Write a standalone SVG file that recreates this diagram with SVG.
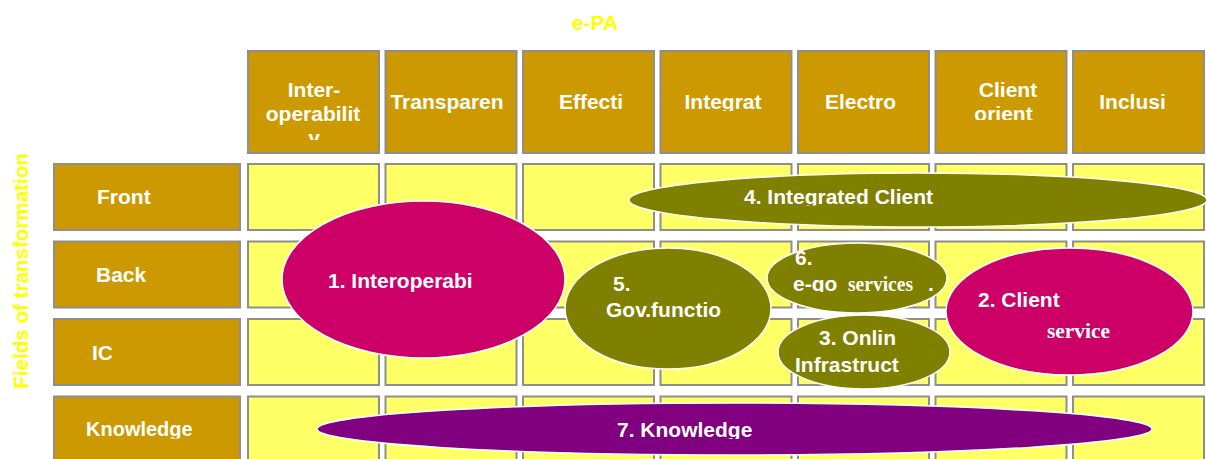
<svg xmlns="http://www.w3.org/2000/svg" width="1206" height="459" viewBox="0 0 1206 459">
  <style>
    .hdr { fill: #CC9900; stroke: #8E8E8E; stroke-width: 2; }
    .cell { fill: #FFFF66; stroke: #8E8E8E; stroke-width: 2; }
    .lbl { font-family: "Liberation Sans", Arial, sans-serif; font-weight: bold; font-size: 21px; fill: #FFFFFF; }
    .mid { text-anchor: middle; }
    .serif { font-family: "Liberation Serif", "Times New Roman", serif; font-weight: bold; font-size: 20px; fill: #FFFFFF; }
    .title { font-family: "Liberation Sans", Arial, sans-serif; font-weight: bold; font-size: 21px; fill: #FFFF00; }
    .ell { stroke: #FFFFFF; stroke-width: 1.5; }
    .magenta { fill: #CC0066; }
    .olive { fill: #808000; }
    .purple { fill: #800080; }
  </style>
  <defs>
    <!-- overflowing label text is cut off at the bottom of its text frame -->
    <clipPath id="cInter" clipPathUnits="userSpaceOnUse"><rect x="247" y="50" width="133" height="90"/></clipPath>
    <clipPath id="cTrans" clipPathUnits="userSpaceOnUse"><rect x="385" y="50" width="133" height="71"/></clipPath>
    <clipPath id="cIntegrat" clipPathUnits="userSpaceOnUse"><rect x="660" y="50" width="133" height="61"/></clipPath>
    <clipPath id="cClient" clipPathUnits="userSpaceOnUse"><rect x="935" y="50" width="133" height="70"/></clipPath>
    <clipPath id="cKnowLbl" clipPathUnits="userSpaceOnUse"><rect x="53" y="396" width="188" height="42.5"/></clipPath>
    <clipPath id="cInteg4" clipPathUnits="userSpaceOnUse"><rect x="629" y="173" width="578" height="32.5"/></clipPath>
    <clipPath id="cEgo" clipPathUnits="userSpaceOnUse"><rect x="767" y="243" width="180" height="49"/></clipPath>
    <clipPath id="cKnow7" clipPathUnits="userSpaceOnUse"><rect x="317" y="403" width="836" height="36"/></clipPath>
  </defs>

  <rect width="1206" height="459" fill="#FFFFFF"/>

  <!-- axis titles -->
  <text id="title-epa" class="title mid" x="595" y="30">e-PA</text>
  <text id="title-fields" class="title mid" transform="translate(28,271) rotate(-90)" style="font-size:20.6px">Fields of transformation</text>

  <!-- column headers -->
  <g id="col-interoperability">
    <rect class="hdr" x="248" y="51" width="131" height="102"/>
    <g clip-path="url(#cInter)">
      <text class="lbl mid" x="314" y="97">Inter-</text>
      <text class="lbl mid" x="313" y="121">operabilit</text>
      <text class="lbl mid" x="314" y="145">y</text>
    </g>
  </g>
  <g id="col-transparency">
    <rect class="hdr" x="385.5" y="51" width="131" height="102"/>
    <text class="lbl mid" x="447" y="109" clip-path="url(#cTrans)">Transparen</text>
  </g>
  <g id="col-effectiveness">
    <rect class="hdr" x="523" y="51" width="131" height="102"/>
    <text class="lbl mid" x="591" y="109">Effecti</text>
  </g>
  <g id="col-integration">
    <rect class="hdr" x="660.5" y="51" width="131" height="102"/>
    <text class="lbl mid" x="723" y="109" clip-path="url(#cIntegrat)">Integrat</text>
  </g>
  <g id="col-electronic">
    <rect class="hdr" x="798" y="51" width="131" height="102"/>
    <text class="lbl mid" x="860.5" y="109">Electro</text>
  </g>
  <g id="col-client-orientation">
    <rect class="hdr" x="935.5" y="51" width="131" height="102"/>
    <g clip-path="url(#cClient)">
      <text class="lbl mid" x="1008" y="97">Client</text>
      <text class="lbl mid" x="1003.5" y="121">orient</text>
    </g>
  </g>
  <g id="col-inclusion">
    <rect class="hdr" x="1073" y="51" width="131" height="102"/>
    <text class="lbl mid" x="1132.5" y="109">Inclusi</text>
  </g>

  <!-- row headers -->
  <g id="row-front">
    <rect class="hdr" x="54" y="164" width="186" height="66"/>
    <text class="lbl" x="97" y="204">Front</text>
  </g>
  <g id="row-back">
    <rect class="hdr" x="54" y="241.5" width="186" height="66"/>
    <text class="lbl" x="96" y="282">Back</text>
  </g>
  <g id="row-ic">
    <rect class="hdr" x="54" y="319" width="186" height="66"/>
    <text class="lbl" x="92" y="360">IC</text>
  </g>
  <g id="row-knowledge">
    <rect class="hdr" x="54" y="396.5" width="186" height="66"/>
    <text class="lbl" x="86" y="436" clip-path="url(#cKnowLbl)" style="font-size:20px">Knowledge</text>
  </g>

  <!-- matrix cells -->
  <g id="grid">
    <g id="grid-front">
      <rect class="cell" x="248" y="164" width="131" height="66"/>
      <rect class="cell" x="385.5" y="164" width="131" height="66"/>
      <rect class="cell" x="523" y="164" width="131" height="66"/>
      <rect class="cell" x="660.5" y="164" width="131" height="66"/>
      <rect class="cell" x="798" y="164" width="131" height="66"/>
      <rect class="cell" x="935.5" y="164" width="131" height="66"/>
      <rect class="cell" x="1073" y="164" width="131" height="66"/>
    </g>
    <g id="grid-back">
      <rect class="cell" x="248" y="241.5" width="131" height="66"/>
      <rect class="cell" x="385.5" y="241.5" width="131" height="66"/>
      <rect class="cell" x="523" y="241.5" width="131" height="66"/>
      <rect class="cell" x="660.5" y="241.5" width="131" height="66"/>
      <rect class="cell" x="798" y="241.5" width="131" height="66"/>
      <rect class="cell" x="935.5" y="241.5" width="131" height="66"/>
      <rect class="cell" x="1073" y="241.5" width="131" height="66"/>
    </g>
    <g id="grid-ic">
      <rect class="cell" x="248" y="319" width="131" height="66"/>
      <rect class="cell" x="385.5" y="319" width="131" height="66"/>
      <rect class="cell" x="523" y="319" width="131" height="66"/>
      <rect class="cell" x="660.5" y="319" width="131" height="66"/>
      <rect class="cell" x="798" y="319" width="131" height="66"/>
      <rect class="cell" x="935.5" y="319" width="131" height="66"/>
      <rect class="cell" x="1073" y="319" width="131" height="66"/>
    </g>
    <g id="grid-knowledge">
      <rect class="cell" x="248" y="396.5" width="131" height="66"/>
      <rect class="cell" x="385.5" y="396.5" width="131" height="66"/>
      <rect class="cell" x="523" y="396.5" width="131" height="66"/>
      <rect class="cell" x="660.5" y="396.5" width="131" height="66"/>
      <rect class="cell" x="798" y="396.5" width="131" height="66"/>
      <rect class="cell" x="935.5" y="396.5" width="131" height="66"/>
      <rect class="cell" x="1073" y="396.5" width="131" height="66"/>
    </g>
  </g>

  <!-- transformation areas -->
  <g id="area-4-integrated-client">
    <ellipse class="ell olive" cx="918" cy="200" rx="289" ry="27"/>
    <text class="lbl" x="744" y="204" clip-path="url(#cInteg4)">4. Integrated Client</text>
  </g>
  <g id="area-1-interoperability">
    <ellipse class="ell magenta" cx="423.5" cy="279.5" rx="141.5" ry="78.5"/>
    <text class="lbl" x="328" y="288">1. Interoperabi</text>
  </g>
  <g id="area-5-gov-functions">
    <ellipse class="ell olive" cx="668" cy="308.5" rx="103" ry="60.5"/>
    <text class="lbl" x="613" y="291">5.</text>
    <text class="lbl" x="606" y="317">Gov.functio</text>
  </g>
  <g id="area-6-e-gov-services">
    <ellipse class="ell olive" cx="857" cy="278" rx="90" ry="35"/>
    <text class="lbl" x="795" y="265">6.</text>
    <text class="lbl" x="793" y="291" clip-path="url(#cEgo)">e-go</text>
    <text class="serif" x="848" y="291" textLength="65" lengthAdjust="spacingAndGlyphs">services</text>
    <text class="lbl" x="928" y="291">.</text>
  </g>
  <g id="area-3-online-infrastructure">
    <ellipse class="ell olive" cx="864" cy="352" rx="86" ry="37"/>
    <text class="lbl" x="819" y="345">3. Onlin</text>
    <text class="lbl" x="795" y="372">Infrastruct</text>
  </g>
  <g id="area-2-client-service">
    <ellipse class="ell magenta" cx="1069.5" cy="311.5" rx="123.5" ry="63.5"/>
    <text class="lbl" x="978" y="307">2. Client</text>
    <text class="serif" x="1047" y="338" textLength="63" lengthAdjust="spacingAndGlyphs">service</text>
  </g>
  <g id="area-7-knowledge">
    <ellipse class="ell purple" cx="734.5" cy="429" rx="417.5" ry="26"/>
    <text class="lbl" x="617" y="437" clip-path="url(#cKnow7)">7. Knowledge</text>
  </g>
</svg>
